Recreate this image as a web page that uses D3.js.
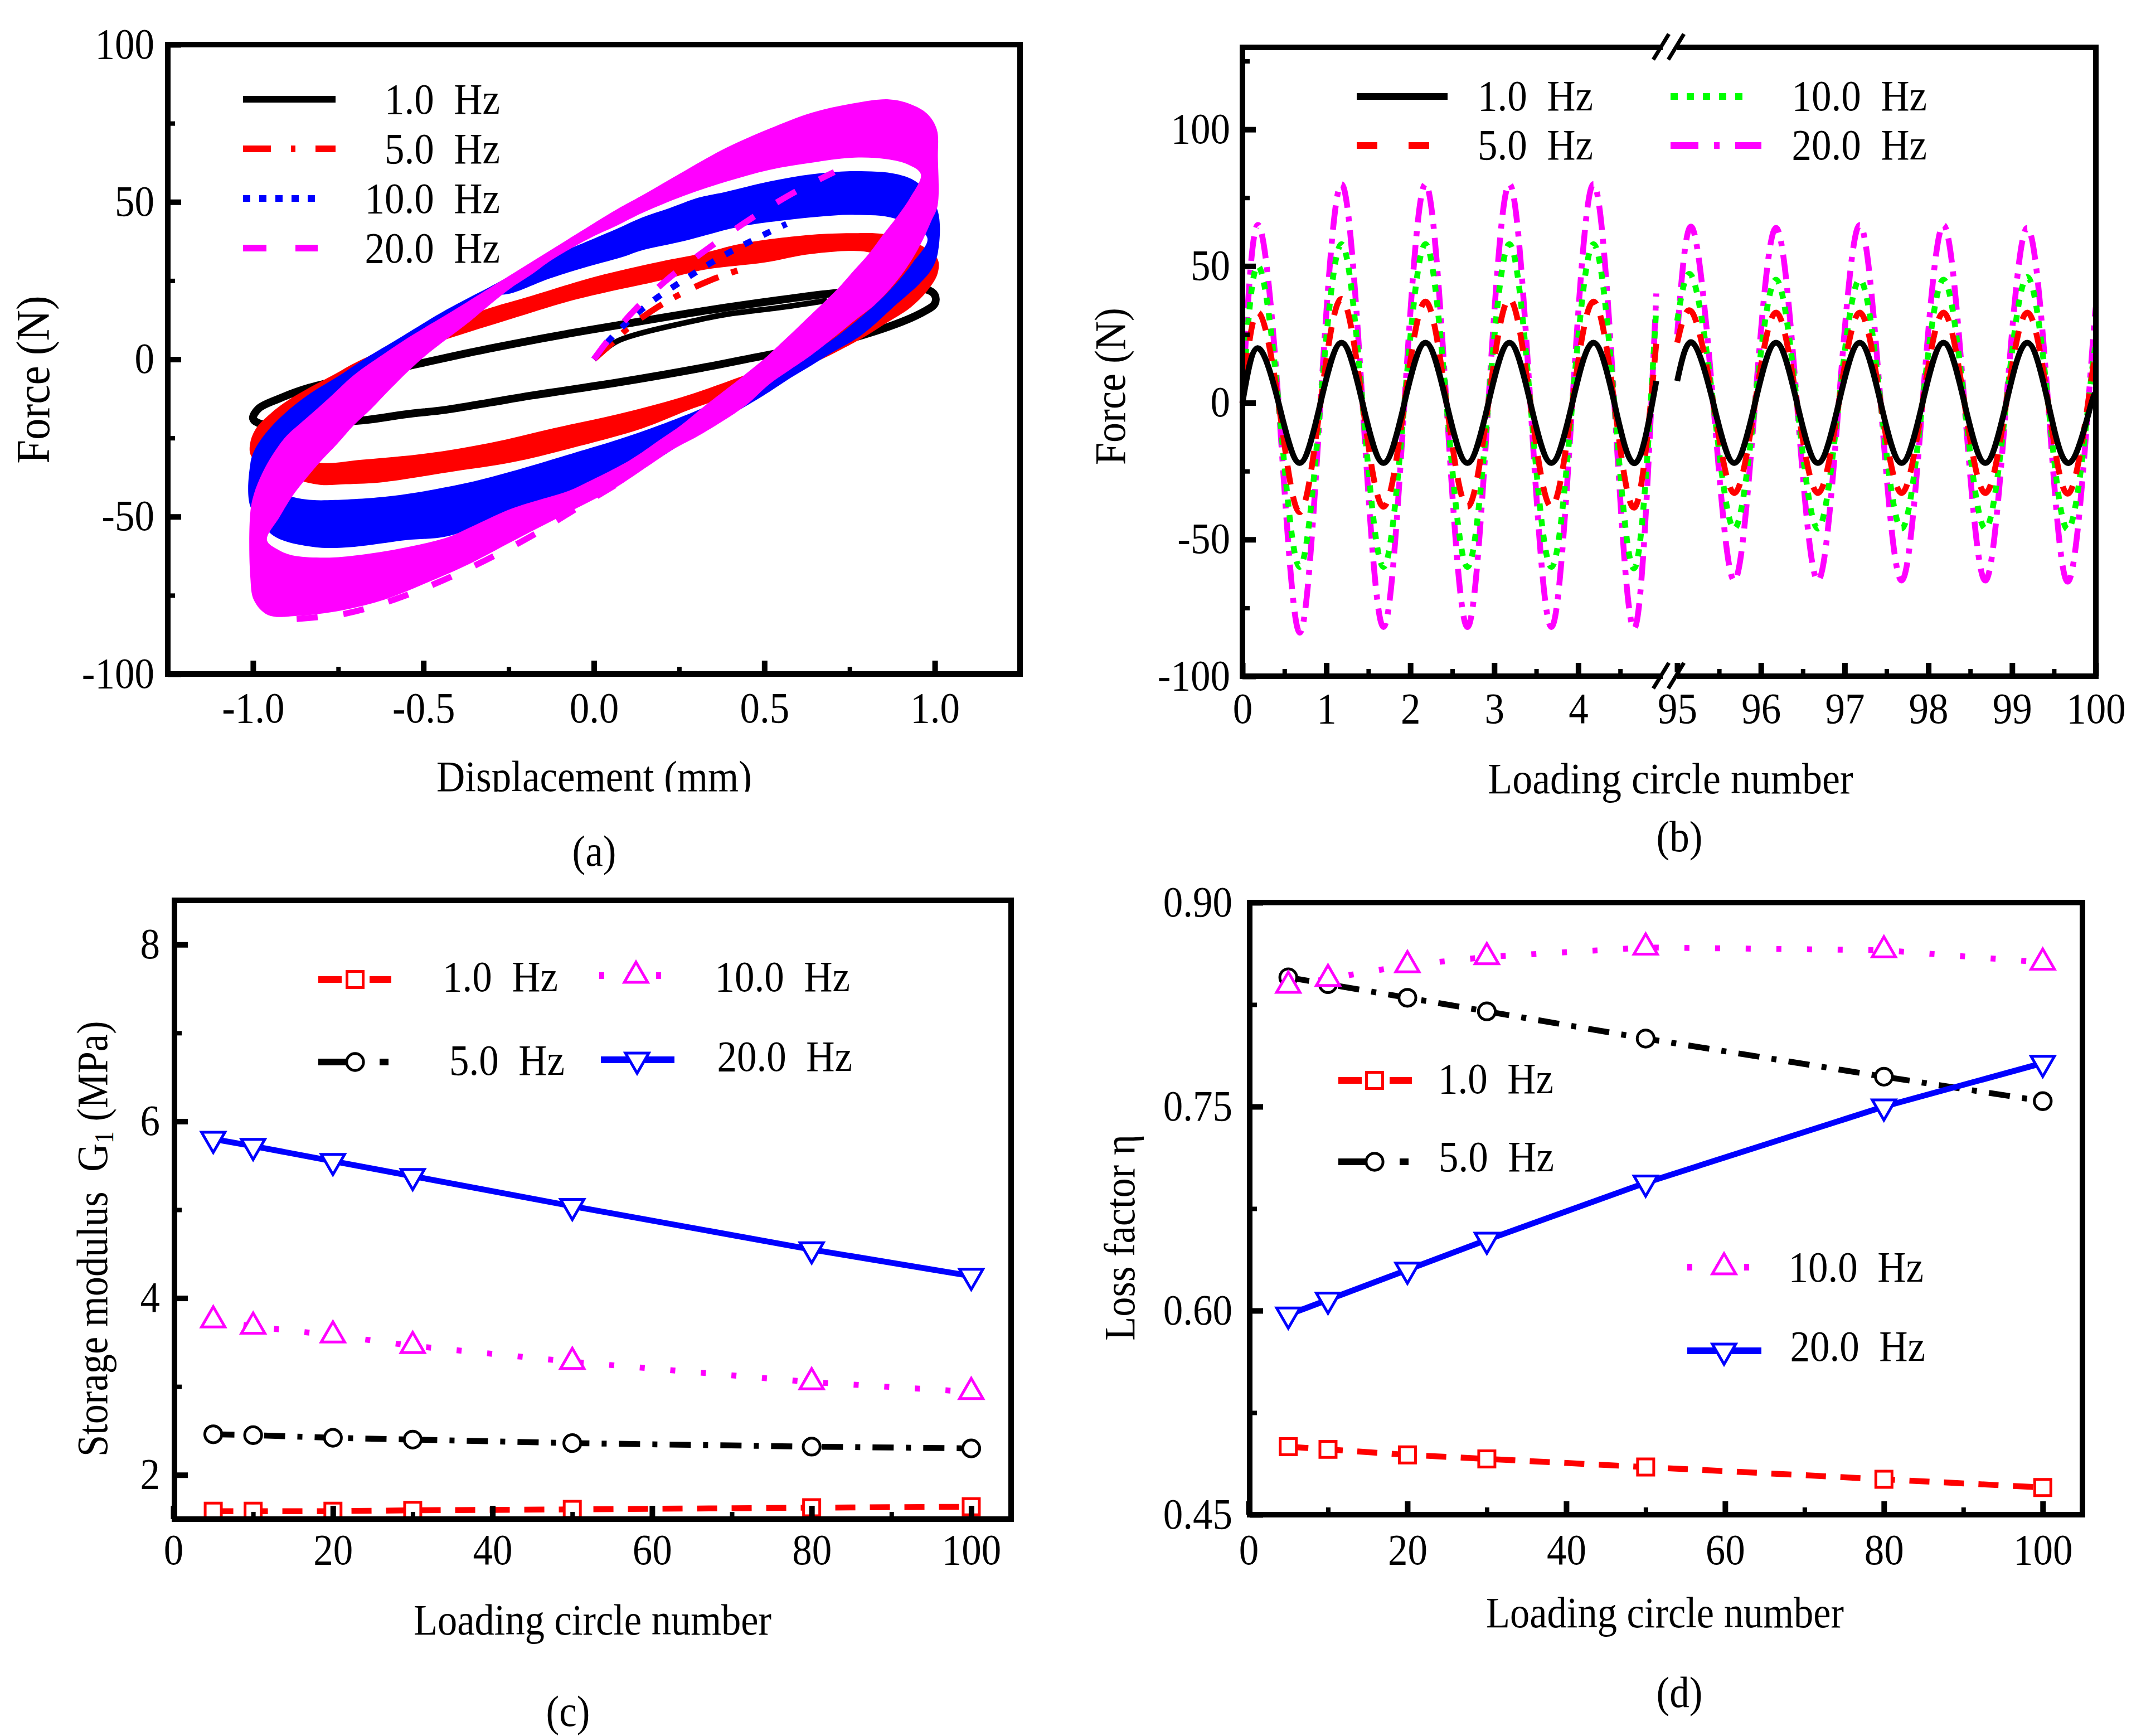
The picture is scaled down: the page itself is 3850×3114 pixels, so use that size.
<!DOCTYPE html>
<html><head><meta charset="utf-8">
<script src="https://cdn.jsdelivr.net/npm/d3@7/dist/d3.min.js"></script>
<style>html,body{margin:0;padding:0;background:#fff}svg{display:block}text{font-family:"Liberation Serif";fill:#000;white-space:pre}</style>
</head><body>
<script>
// ---------- panel (a): hysteresis rings [displacement, force]
const ringMagentaOuter=[[.14,52],[.265,59.8],[.39,67.3],[.515,73.3],[.64,78.4],[.765,81.4],[.865,82.6],[.928,81.1],[.978,78],[1.006,73],[1.009,64.2],[1.008,48.7],[.99,44],[.965,38],[.934,31.9],[.89,25.1],[.828,17.7],[.765,12.3],[.64,1.5],[.577,-3.2],[.515,-7.9],[.444,-14.8],[.318,-23.6],[.231,-28.7],[.162,-33.7],[.06,-41],[-.072,-48.5],[-.24,-57.9],[-.365,-65],[-.49,-71],[-.615,-76.4],[-.74,-79.8],[-.865,-81.5],[-.955,-81.3],[-.997,-76.6],[-1.008,-69],[-1.008,-48.8],[-.997,-42.7],[-.972,-36],[-.94,-29.9],[-.903,-24.5],[-.84,-18.4],[-.778,-12.4],[-.703,-4.9],[-.615,1.8],[-.528,8],[-.432,14.2],[-.307,22.6],[-.182,31],[-.057,39.4],[.068,47.7]];
const ringMagentaInner=[[.14,46.4],[.265,52],[.39,56.5],[.515,60.2],[.64,62.5],[.765,64.1],[.859,63.6],[.921,61.9],[.959,58.8],[.928,51.4],[.89,45.4],[.846,39.3],[.809,33.9],[.765,28.5],[.715,22.4],[.671,17.7],[.609,11.3],[.54,4.2],[.5,.2],[.437,-5.4],[.325,-14.8],[.256,-20.9],[.193,-25.6],[.106,-32],[-.026,-39.4],[-.072,-41.7],[-.24,-47.4],[-.365,-53.5],[-.428,-56.5],[-.571,-60.2],[-.722,-62.6],[-.803,-63],[-.884,-62.3],[-.925,-60.6],[-.959,-57.5],[-.922,-50.1],[-.884,-43.4],[-.84,-37.3],[-.803,-32.6],[-.753,-26.9],[-.703,-20.8],[-.653,-15.7],[-.596,-9.3],[-.54,-3.3],[-.49,1.5],[-.432,6.4],[-.363,12.1],[-.307,17.2],[-.244,22.6],[-.182,27],[-.126,31.4],[-.019,38.1],[.068,42.5]];
const ringBlueOuter=[[.14,45],[.221,48],[.308,51.4],[.383,53.1],[.515,56.5],[.64,58.8],[.765,59.8],[.89,58.8],[.953,55.8],[1.008,47.4],[1.009,33.9],[.99,28.5],[.953,23.8],[.89,17.7],[.784,7.6],[.7,2.2],[.64,-1.8],[.577,-5.9],[.515,-10.3],[.456,-14.2],[.343,-21.2],[.293,-24.3],[.131,-35],[-.026,-40.5],[-.159,-45.4],[-.29,-50.8],[-.428,-56.2],[-.553,-57.5],[-.703,-59.6],[-.797,-59.9],[-.865,-58.9],[-.903,-57.9],[-.947,-55.5],[-1.008,-46.7],[-1.008,-33.3],[-.997,-29.2],[-.965,-23.8],[-.909,-17.4],[-.834,-11],[-.753,-5.6],[-.678,-.2],[-.584,5.9],[-.432,15.8],[-.307,22.9],[-.182,30],[-.019,37.5],[.068,41.5]];
const ringBlueInner=[[.14,34.6],[.265,37.6],[.421,42],[.546,44],[.659,45.3],[.765,45.9],[.884,44.7],[.978,38.6],[.934,30.5],[.878,23.1],[.821,17],[.74,9.6],[.69,5.6],[.5,-6],[.312,-15.8],[.193,-20.9],[.068,-25.6],[-.057,-29.7],[-.244,-35.7],[-.39,-39.7],[-.59,-43.4],[-.759,-44.7],[-.828,-44.7],[-.884,-43.7],[-.972,-40],[-.934,-30.6],[-.897,-25.2],[-.847,-19.8],[-.778,-13],[-.703,-6.3],[-.615,-.2],[-.528,5.2],[-.432,12.1],[-.307,20],[-.245,20.9],[-.132,25.6],[-.032,29],[.081,32.4]];
const ringRedOuter=[[.193,31],[.318,33.7],[.44,36.9],[.64,39.6],[.765,40.1],[.85,39.8],[.953,36.6],[1.008,31.9],[1.008,27.2],[.978,21.8],[.928,16.4],[.859,11.6],[.79,6.9],[.721,2.9],[.677,.5],[.5,-8],[.293,-15.5],[.143,-21.9],[-.044,-27.6],[-.238,-32.7],[-.428,-35.9],[-.615,-39],[-.728,-39.7],[-.803,-39.9],[-.88,-38],[-.959,-34.6],[-1.006,-30.6],[-1.008,-26.5],[-.99,-21.8],[-.947,-17.1],[-.897,-13],[-.834,-9],[-.753,-4.3],[-.709,-1.6],[-.615,3.2],[-.432,11],[-.319,15.8],[-.182,20.2],[.006,26.3]];
const ringRedInner=[[.193,25],[.327,28.5],[.502,30.8],[.64,33.5],[.806,34],[.89,29.8],[.828,20.4],[.734,10.3],[.64,2.9],[.434,-5.4],[.256,-12.1],[.068,-17.5],[-.119,-21.9],[-.307,-26.6],[-.49,-29.9],[-.678,-31.9],[-.803,-32.9],[-.928,-29.2],[-.947,-25.2],[-.865,-16.4],[-.753,-7.6],[-.615,-.2],[-.432,6.4],[-.244,12.8],[-.057,18.9]];
const loopBlack=[[-1,-18.8],[-.984,-15.7],[-.928,-12.7],[-.834,-9],[-.521,-1.6],[-.365,2.1],[-.24,4.8],[-.072,8.2],[.068,10.8],[.318,15.3],[.549,18.9],[.703,21],[.87,22],[.978,22.1],[1,20.4],[1,17.7],[.953,14.3],[.828,9],[.69,4.9],[.515,1.5],[.318,-2.7],[.068,-7.4],[-.182,-11.5],[-.303,-13.7],[-.432,-16],[-.553,-17.5],[-.678,-19.4],[-.853,-20.5],[-.978,-20.5]];
const startBlack=[[0,0],[.062,5.4],[.131,8.1],[.318,12.8],[.39,14.3],[.549,16.5],[.684,18.7]];
const startRed=[[0,0],[.062,6],[.103,10.2],[.181,16.2],[.266,21.4],[.353,25.6],[.443,29]];
const startBlue=[[0,0],[.05,6.7],[.156,17.2],[.265,25.3],[.381,33],[.506,40],[.565,43]];
const startMagenta=[[0,0],[.037,5.4],[.118,15.5],[.218,25.6],[.337,35.4],[.462,44.8],[.587,53],[.705,59.5]];
const tailMagenta=[[-.872,-82.5],[-.728,-80.8],[-.587,-76.4],[-.453,-70.7],[-.315,-63.7],[-.184,-56.2],[-.072,-48.8],[.065,-39.8]];
const ticksAX=[-1,-.5,0,.5,1], minorsAX=[-.75,-.25,.25,.75], ticksAY=[-100,-50,0,50,100], minorsAY=[-75,-25,25,75];
const legendLabelsA=["1.0  Hz","5.0  Hz","10.0  Hz","20.0  Hz"];

// ---------- panel (b): force against cycle number
const cycLeft=[0,.18,.43,.68,.93,1.18,1.43,1.68,1.93,2.18,2.43,2.68,2.93,3.18,3.43,3.68,3.93,4.18,4.43,4.68,4.93];
const cycRight=[95,95.18,95.43,95.68,95.93,96.18,96.43,96.68,96.93,97.18,97.43,97.68,97.93,98.18,98.43,98.68,98.93,99.18,99.43,99.68,99.93,100];
const b1L=[0,20,0,-22,0,22,0,-22,0,22,0,-22,0,22,0,-22,0,22,0,-22,8];
const b1R=[8,22,0,-22,0,22,0,-22,0,22,0,-22,0,22,0,-22,0,22,0,-22,-2,3];
const b5L=[0,33,0,-40,0,38,0,-38,0,37,0,-38,0,38,0,-38,0,37,0,-38,22];
const b5R=[22,33,0,-33,0,33,0,-33,0,33,0,-33,0,33,0,-33,0,33,0,-33,5,18];
const b10L=[0,50,0,-60,0,58,0,-60,0,58,0,-60,0,58,0,-60,0,58,0,-60,35];
const b10R=[30,46,0,-46,0,45,0,-46,0,45,0,-46,0,45,0,-46,0,46,0,-46,5,20];
const b20L=[0,65,0,-84,0,80,0,-82,0,80,0,-82,0,80,0,-82,0,80,0,-82,40];
const b20R=[25,64,0,-65,0,64,0,-65,0,65,0,-65,0,65,0,-65,0,64,0,-65,8,35];
const ticksBX=[0,1,2,3,4,95,96,97,98,99,100], minorsBX=[.5,1.5,2.5,3.5,4.5,95.5,96.5,97.5,98.5,99.5], ticksBY=[-100,-50,0,50,100], minorsBY=[-75,-25,25,75,125];

// ---------- panels (c), (d)
const cycles=[5,10,20,30,50,80,100];
const g1=[1.59,1.59,1.59,1.60,1.61,1.63,1.64], g5=[2.46,2.45,2.42,2.40,2.36,2.32,2.30], g10=[3.75,3.68,3.58,3.46,3.28,3.05,2.94], g20=[5.80,5.72,5.55,5.38,5.04,4.55,4.25];
const e1=[.50,.498,.494,.491,.485,.476,.47], e5=[.845,.84,.83,.82,.80,.772,.754], e10=[.839,.844,.854,.86,.867,.865,.856], e20=[.597,.608,.63,.652,.694,.75,.782];
const ticksCX=[0,20,40,60,80,100], minorsCX=[10,30,50,70,90], ticksCY=[2,4,6,8], minorsCY=[3,5,7];
const ticksDY=[.45,.6,.75,.9], minorsDY=[.525,.675,.825];

const RED="#ff0000",BLUE="#0000ff",MAG="#ff00ff",GRN="#00ff00",BLK="#000000";
const FS=71, SY=1.1, LW=10.5;
const svg=d3.select("body").append("svg").attr("width",3850).attr("height",3114).attr("viewBox","0 0 3850 3114");
svg.append("rect").attr("width",3850).attr("height",3114).attr("fill","#fff");

function label(str,x,y,anchor="middle",rot=0,size=FS){
  return svg.append("text").attr("transform",`translate(${x},${y})rotate(${rot})scale(1,${SY})`)
    .attr("text-anchor",anchor).attr("font-size",size).text(str);
}
function frame(x0,x1,y0,y1){
  svg.append("rect").attr("x",x0).attr("y",y0).attr("width",x1-x0).attr("height",y1-y0)
    .attr("fill","none").attr("stroke","#000").attr("stroke-width",10);
}
function axes(x,y,yBottom,xLeft,tx,mx,ty,my,fx,fy,xBase,yEnd,yOff){
  const B=svg.append("g").attr("transform",`translate(0,${yBottom})`)
    .call(d3.axisBottom(x).tickValues(tx).tickSize(-24).tickFormat(fx));
  B.select(".domain").remove(); B.selectAll("line").attr("stroke-width",10);
  B.selectAll("text").attr("font-size",FS).attr("dy",0).attr("y",(xBase-yBottom)/SY).attr("transform",`scale(1,${SY})`).attr("font-family","Liberation Serif");
  const B2=svg.append("g").attr("transform",`translate(0,${yBottom})`)
    .call(d3.axisBottom(x).tickValues(mx).tickSize(-13).tickFormat(""));
  B2.select(".domain").remove(); B2.selectAll("line").attr("stroke-width",8);
  const L=svg.append("g").attr("transform",`translate(${xLeft},0)`)
    .call(d3.axisLeft(y).tickValues(ty).tickSize(-24).tickFormat(fy));
  L.select(".domain").remove(); L.selectAll("line").attr("stroke-width",10);
  L.selectAll("text").attr("font-size",FS).attr("dy",0).attr("x",yEnd-xLeft).attr("y",yOff/SY).attr("transform",`scale(1,${SY})`).attr("font-family","Liberation Serif");
  const L2=svg.append("g").attr("transform",`translate(${xLeft},0)`)
    .call(d3.axisLeft(y).tickValues(my).tickSize(-13).tickFormat(""));
  L2.select(".domain").remove(); L2.selectAll("line").attr("stroke-width",8);
}
function legendLine(x0,x1,y,color,dash){
  const s=svg.append("line").attr("x1",x0).attr("x2",x1).attr("y1",y).attr("y2",y).attr("stroke",color).attr("stroke-width",12);
  if(dash) s.attr("stroke-dasharray",dash);
  return s;
}

// ===== (a)
{
  const x0=301,x1=1830,y0=80,y1=1209;
  const x=d3.scaleLinear().domain([-1.25,1.25]).range([x0,x1]);
  const y=d3.scaleLinear().domain([-100,100]).range([y1,y0]);
  const closed=d3.line().x(d=>x(d[0])).y(d=>y(d[1])).curve(d3.curveCatmullRomClosed);
  const open=d3.line().x(d=>x(d[0])).y(d=>y(d[1])).curve(d3.curveCatmullRom);
  svg.append("path").attr("d",closed(loopBlack)).attr("fill","none").attr("stroke",BLK).attr("stroke-width",14);
  svg.append("path").attr("d",open(startBlack)).attr("fill","none").attr("stroke",BLK).attr("stroke-width",10);
  [[ringRedOuter,ringRedInner,RED],[ringBlueOuter,ringBlueInner,BLUE],[ringMagentaOuter,ringMagentaInner,MAG]].forEach(([o,i,c])=>{
    svg.append("path").attr("d",closed(o)+closed(i)).attr("fill",c).attr("fill-rule","evenodd");
  });
  [[startRed,RED,"46,24,12,30"],[startBlue,BLUE,"15,23"],[startMagenta,MAG,"40,47"],[tailMagenta,MAG,"38,46"]].forEach(([d,c,da])=>{
    svg.append("path").attr("d",open(d)).attr("fill","none").attr("stroke",c).attr("stroke-width",11).attr("stroke-dasharray",da);
  });
  frame(x0,x1,y0,y1);
  axes(x,y,y1,x0,ticksAX,minorsAX,ticksAY,minorsAY,d=>d3.format(".1f")(d).replace("\u2212","-"),d=>d,1296,277,24);
  legendLine(436,602,178,BLK);
  legendLine(436,602,267,RED,"50,36,8,36,50");
  legendLine(436,580,356,BLUE,"13,16");
  legendLine(436,570,445,MAG,"42,52");
  [204,293,382,471].forEach((yy,i)=>label(legendLabelsA[i],897,yy,"end"));
  label("Force (N)",88,681,"middle",-90,77);
  label("Displacement (mm)",1066,1419);
  svg.append("rect").attr("x",700).attr("y",1420).attr("width",800).attr("height",40).attr("fill","#fff");
  label("(a)",1066,1553);
}

// ===== (b)
{
  const x0=2229,x1=3760,y0=85,y1=1213;
  const x=d3.scaleLinear().domain([0,5,95,100]).range([x0,2982,3009,x1]);
  const y=d3.scaleLinear().domain([-100,130]).range([y1,y0]);
  const ln=d3.line().x(d=>x(d[0])).y(d=>y(d[1])).curve(d3.curveNatural);
  [[b20L,b20R,cycLeft,cycRight,MAG,"44,16,9,16"],[b10L,b10R,cycLeft,cycRight,GRN,"13,15"],[b5L,b5R,cycLeft,cycRight,RED,"34,22"],[b1L,b1R,cycLeft,cycRight,BLK,null]].forEach(([l,r,cl,cr,c,da])=>{
    [[cl,l],[cr,r]].forEach(([xs,vs])=>{
      const p=svg.append("path").attr("d",ln(xs.map((v,i)=>[v,vs[i]]))).attr("fill","none").attr("stroke",c).attr("stroke-width",LW);
      if(da) p.attr("stroke-dasharray",da);
    });
  });
  frame(x0,x1,y0,y1);
  axes(x,y,y1,x0,ticksBX,minorsBX,ticksBY,minorsBY,d=>d,d=>d,1297,2207,24);
  [y0,y1].forEach(yy=>{
    svg.append("rect").attr("x",2983).attr("y",yy-7).attr("width",26).attr("height",14).attr("fill","#fff");
    [2966,2993].forEach(xx=>svg.append("line").attr("x1",xx).attr("x2",xx+28).attr("y1",yy+22).attr("y2",yy-24).attr("stroke","#000").attr("stroke-width",7));
  });
  legendLine(2434,2597,173,BLK);
  legendLine(2434,2570,261,RED,"37,56");
  legendLine(2997,3140,173,GRN,"13,16");
  legendLine(2997,3160,261,MAG,"50,28,10,28,50");
  label("1.0  Hz",2858,198,"end"); label("5.0  Hz",2858,286,"end");
  label("10.0  Hz",3457,198,"end"); label("20.0  Hz",3457,286,"end");
  label("Force (N)",2018,693,"middle",-90,72);
  label("Loading circle number",2997,1423,"middle",0,72);
  label("(b)",3013,1527);
}

// ===== (c) & (d)
const symbols={sq:d3.symbolSquare,ci:d3.symbolCircle,up:d3.symbolTriangle,dn:d3.symbolTriangle};
const areas={sq:840,ci:720,up:760,dn:760};
function marker(x,y,kind,color){
  svg.append("path").attr("d",d3.symbol(symbols[kind],areas[kind])())
    .attr("transform",`translate(${x},${y})${kind==="dn"?"rotate(180)":""}`)
    .attr("fill","#fff").attr("stroke",color).attr("stroke-width",5);
}
const STY={sq:[RED,"36,26"],ci:[BLK,"38,22,9,22"],up:[MAG,"9,46"],dn:[BLUE,null]};
function series(x,y,vals,kind){
  const [c,da]=STY[kind];
  const ln=d3.line().x(d=>x(d[0])).y(d=>y(d[1]));
  const p=svg.append("path").attr("d",ln(cycles.map((v,i)=>[v,vals[i]]))).attr("fill","none").attr("stroke",c).attr("stroke-width",LW);
  if(da) p.attr("stroke-dasharray",da);
  cycles.forEach((v,i)=>marker(x(v),y(vals[i]),kind,c));
}
function legendM(x0,x1,mx,y,kind,dash){
  legendLine(x0,x1,y,STY[kind][0],dash);
  marker(mx,y,kind,STY[kind][0]);
}
{
  const x0=313,x1=1814,y0=1615,y1=2725;
  const x=d3.scaleLinear().domain([0,105]).range([x0-2,x1]);
  const y=d3.scaleLinear().domain([1.5,8.5]).range([y1,y0]);
  series(x,y,g1,"sq"); series(x,y,g5,"ci"); series(x,y,g10,"up"); series(x,y,g20,"dn");
  frame(x0,x1,y0,y1);
  axes(x,y,y1,x0,ticksCX,minorsCX,ticksCY,minorsCY,d=>d,d=>d,2806,287,24);
  legendM(571,702,637,1757,"sq","42,50,42");
  legendM(571,708,637,1905,"ci","50,60,16");
  legendM(1075,1192,1141,1750,"up","9,42");
  legendM(1078,1210,1143,1901,"dn");
  label("1.0  Hz",1001,1778,"end"); label("5.0  Hz",1013,1928,"end");
  label("10.0  Hz",1525,1778,"end"); label("20.0  Hz",1529,1921,"end");
  const st=label("Storage modulus  G",192,2613,"start",-90,70.5);
  st.append("tspan").attr("font-size",44).attr("dy",10).text("1");
  st.append("tspan").attr("dy",-10).text(" (MPa)");
  label("Loading circle number",1063,2932,"middle",0,70.5);
  label("(c)",1019,3096);
}
{
  const x0=317,x1=1811,y0=1619,y1=2717;
  const X0=1925+x0,X1=1925+x1;
  const x=d3.scaleLinear().domain([0,105]).range([X0-2,X1]);
  const y=d3.scaleLinear().domain([.45,.9]).range([y1,y0]);
  series(x,y,e1,"sq"); series(x,y,e5,"ci"); series(x,y,e10,"up"); series(x,y,e20,"dn");
  frame(X0,X1,y0,y1);
  axes(x,y,y1,X0,ticksCX,minorsCX,ticksDY,minorsDY,d=>d,d3.format(".2f"),2806,2211,24);
  legendM(2401,2533,2466,1938,"sq","42,50,42");
  legendM(2401,2537,2466,2084,"ci","50,60,16");
  legendM(3027,3145,3093,2273,"up","9,42");
  legendM(3027,3160,3093,2423,"dn");
  label("1.0  Hz",2787,1961,"end"); label("5.0  Hz",2788,2101,"end");
  label("10.0  Hz",3451,2299,"end"); label("20.0  Hz",3454,2441,"end");
  label("Loss factor η",2035,2220,"middle",-90,70.5);
  label("Loading circle number",2987,2919,"middle",0,70.5);
  label("(d)",3013,3062);
}
</script>
</body></html>
